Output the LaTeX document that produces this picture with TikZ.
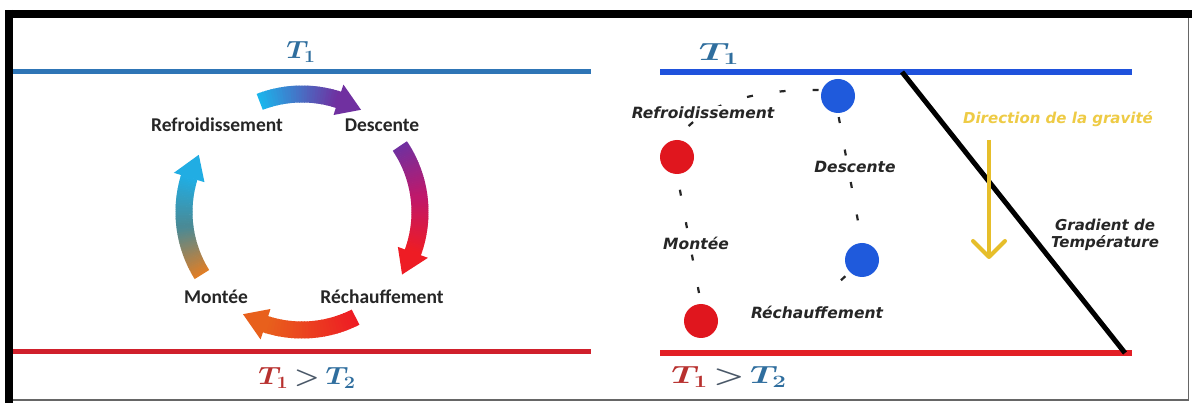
\documentclass[tikz,border=0pt]{standalone}
\usepackage{fontspec}
\usepackage{graphicx}
\newfontfamily\calfont{Carlito}
\newfontfamily\verfont{DejaVu Sans}
\usetikzlibrary{arrows.meta}
\definecolor{lineblueL}{HTML}{2E75B6}
\definecolor{lineredL}{HTML}{D0202C}
\definecolor{lineblueR}{HTML}{1F52DC}
\definecolor{lineredR}{HTML}{E21F26}
\definecolor{tblue}{HTML}{2F6E9E}
\definecolor{tred}{HTML}{B8312F}
\definecolor{tgray}{HTML}{4A5868}
\definecolor{cyanA}{HTML}{1BB5EC}
\definecolor{purpA}{HTML}{7030A0}
\definecolor{magA}{HTML}{C0186A}
\definecolor{redA}{HTML}{EE1C24}
\definecolor{orgA}{HTML}{E8601C}
\definecolor{orgB}{HTML}{E07E26}
\definecolor{tealA}{HTML}{4A8A96}
\definecolor{cyanB}{HTML}{21ADE3}
\definecolor{ballred}{HTML}{E0161E}
\definecolor{ballblue}{HTML}{1F5ADC}
\definecolor{goldA}{HTML}{E6BE2A}
\definecolor{goldT}{HTML}{EECB45}
\def\ringcx{302}\def\ringcy{212}\def\ringR{118}\def\ringhw{8.5}\def\ringhh{16}
\newcommand{\ringbody}[4]{%
 \foreach \k in {0,...,29}{%
   \pgfmathsetmacro{\ta}{#1+(#2-#1)*\k/30}%
   \pgfmathsetmacro{\tb}{#1+(#2-#1)*(\k+1.3)/30}%
   \pgfmathtruncatemacro{\pc}{100-100*\k/29}%
   \fill[#3!\pc!#4] ({\ringcx+(\ringR+\ringhw)*cos(\ta)},{\ringcy-(\ringR+\ringhw)*sin(\ta)}) -- ({\ringcx+(\ringR+\ringhw)*cos(\tb)},{\ringcy-(\ringR+\ringhw)*sin(\tb)}) -- ({\ringcx+(\ringR-\ringhw)*cos(\tb)},{\ringcy-(\ringR-\ringhw)*sin(\tb)}) -- ({\ringcx+(\ringR-\ringhw)*cos(\ta)},{\ringcy-(\ringR-\ringhw)*sin(\ta)}) -- cycle;
 }}
\newcommand{\ringhead}[3]{%
 \fill[#3] ({\ringcx+(\ringR+\ringhh)*cos(#1)},{\ringcy-(\ringR+\ringhh)*sin(#1)}) -- ({\ringcx+\ringR*cos(#2)},{\ringcy-\ringR*sin(#2)}) -- ({\ringcx+(\ringR-\ringhh)*cos(#1)},{\ringcy-(\ringR-\ringhh)*sin(#1)}) -- cycle;}
\tikzset{
  labL/.style={font=\calfont\bfseries\fontsize{19.5}{21}\selectfont, text=black!85, inner sep=1pt},
  labR/.style={font=\verfont\bfseries\itshape\fontsize{15.5}{17}\selectfont, text=black!85, fill=white, inner sep=1pt},
  ball/.style={circle, minimum size=34pt, inner sep=0pt},
  dashy/.style={line width=2.2pt, dash pattern=on 6pt off 27pt, black!85},
  mathL/.style={font=\boldmath\fontsize{26}{28}\selectfont, inner sep=0pt},
  mathR/.style={font=\boldmath\fontsize{27}{29}\selectfont, inner sep=0pt},
}
\begin{document}
\begin{tikzpicture}[x=1pt,y=-1pt]
\useasboundingbox (0,0) rectangle (1192,403);
\fill[white] (0,0) rectangle (1192,403);
% frame
\coordinate (fTL) at (5,14); \coordinate (fTR) at (1192,14);
\coordinate (fLT) at (9,10); \coordinate (fLB) at (9,403);
\coordinate (fRT) at (1188.5,18); \coordinate (fRB) at (1188.5,400);
\coordinate (fBL) at (13,400); \coordinate (fBR) at (1188.5,400);
\draw[line width=8pt] (fTL) -- (fTR);
\draw[line width=8pt] (fLT) -- (fLB);
\draw[line width=1.2pt, black!60] (fRT) -- (fRB);
\draw[line width=1.2pt, black!60] (fBL) -- (fBR);

% ---------- left panel ----------
\coordinate (lb1) at (13,71.5); \coordinate (lb2) at (591,71.5);
\coordinate (lr1) at (13,352); \coordinate (lr2) at (591,352);
\draw[lineblueL, line width=5pt] (lb1) -- (lb2);
\draw[lineredL, line width=5pt] (lr1) -- (lr2);
\node[mathL, text=tblue] (T1L) at (301,52) {\scalebox{1.12}[1]{$T_1$}};
\node[mathL] (T12L) at (307,378) {\scalebox{1.15}[1]{{\color{tred}$T_1$}\hspace{5pt}{\color{tgray}$>$}\hspace{5pt}{\color{tblue}$T_2$}}};

% ring arrows
\ringbody{111}{72}{cyanA}{purpA}\ringhead{72}{60}{purpA}
\ringbody{34}{7}{purpA}{magA}\ringbody{7}{-20}{magA}{redA}\ringhead{-20}{-32}{redA}
\ringbody{-63}{-108}{redA}{orgA}\ringhead{-108}{-120}{orgA}
\ringbody{212}{187}{orgB}{tealA}\ringbody{187}{163}{tealA}{cyanB}\ringhead{163}{151}{cyanB}

\node[labL] (refL) at (217,125) {Refroidissement};
\node[labL] (desL) at (382,125) {Descente};
\node[labL] (monL) at (216,297) {Montée};
\node[labL] (recL) at (382,297) {Réchauffement};

% ---------- right panel ----------
\coordinate (rb1) at (660,72.5); \coordinate (rb2) at (1132,72.5);
\coordinate (rr1) at (660,353); \coordinate (rr2) at (1132,353);
\draw[lineblueR, line width=6pt] (rb1) -- (rb2);
\draw[lineredR, line width=6pt] (rr1) -- (rr2);
\node[mathR, text=tblue] (T1R) at (719,54) {\scalebox{1.55}[1]{$T_1$}};
\node[mathR] (T12R) at (729,377) {\scalebox{1.4}[1]{{\color{tred}$T_1$}\hspace{4pt}{\color{tgray}$>$}\hspace{4pt}{\color{tblue}$T_2$}}};

% gradient line
\coordinate (gA) at (902,72); \coordinate (gB) at (1125,353);
\draw[line width=5pt] (gA) -- (gB);

% balls
\node[ball, fill=ballred] (r1) at (677,157) {};
\node[ball, fill=ballred] (r2) at (701,321) {};
\node[ball, fill=ballblue] (b1) at (838,96) {};
\node[ball, fill=ballblue] (b2) at (862,260) {};
\coordinate (recTop) at (817,302);

% dashed paths
\draw[dashy, dash phase=22pt] (r2.north) -- (r1.south);
\draw[dashy, dash phase=15pt] (r1.north) .. controls (695,112) and (740,88) .. (b1.160);
\draw[dashy, dash phase=29pt] (b1.south) -- (b2.north);
\draw[dashy, dash pattern=on 6pt off 60pt, dash phase=-6pt] (b2.south west) -- (recTop);

\node[labR] (refR) at (703,113) {Refroidissement};
\node[labR] (desR) at (855,167) {Descente};
\node[labR] (monR) at (696,243) {Montée};
\node[labR] (recR) at (817,312) {Réchauffement};

% gravity
\node[font=\verfont\bfseries\itshape\fontsize{15}{17}\selectfont, text=goldT] (grav) at (1058,119) {Direction de la gravité};
\coordinate (g1) at (989,140); \coordinate (g2) at (989,257);
\coordinate (gl) at (973,241); \coordinate (gr) at (1005,241);
\draw[goldA, line width=4pt] (g1) -- (g2);
\draw[goldA, line width=4pt, line cap=round, line join=round] (gl) -- (g2) -- (gr);

\node[font=\verfont\bfseries\itshape\fontsize{15}{17}\selectfont, text=black!85, align=center] (grad) at (1105,235) {Gradient de\\Température};
\end{tikzpicture}
\end{document}
